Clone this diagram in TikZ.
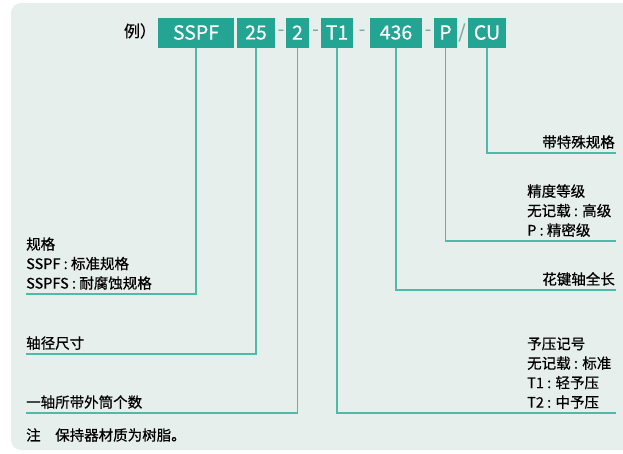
\documentclass[tikz,border=0pt]{standalone}
\usepackage{fontspec}
\setmainfont{Noto Sans CJK SC}[FakeBold=0.6]
\newfontfamily\codefont{Noto Sans CJK SC}[FakeBold=0.3]
\definecolor{boxteal}{RGB}{36,165,147}
\definecolor{leadteal}{RGB}{80,186,170}
\definecolor{septeal}{RGB}{120,170,160}
\definecolor{bgpale}{RGB}{230,239,236}
\begin{document}
\begin{tikzpicture}[x=1pt,y=-1pt]
    \tikzstyle{code}=[fill=boxteal,text=white,minimum height=30pt,inner sep=0pt,font=\codefont\fontsize{19.5}{19.5}\selectfont]
    \tikzstyle{sep}=[text=septeal,inner sep=0pt,font=\codefont\fontsize{18}{18}\selectfont]
    \tikzstyle{lead}=[draw=leadteal,line width=1.6pt]
    \tikzstyle{note}=[align=left,inner sep=0pt,font=\fontsize{14.5}{19.5}\selectfont]
    \useasboundingbox (0,0) rectangle (623,453);
    \clip (0,0) rectangle (623,453);
    \fill[bgpale,rounded corners=10pt] (11,3) rectangle (660,450);

      % header row
      \node (ex) at (140,31) [note,font=\fontsize{16}{16}\selectfont] {例）};
      \node (sspf) at (196,32.5) [code,minimum width=76pt] {SSPF};
      \node (dia) at (256,32.5) [code,minimum width=38pt] {25};
      \node (d1) at (281,32.5) [sep] {-};
      \node (num) at (297.5,32.5) [code,minimum width=23pt] {2};
      \node (d2) at (315.5,32.5) [sep] {-};
      \node (pre) at (337,32.5) [code,minimum width=32pt] {T1};
      \node (d3) at (362,32.5) [sep] {-};
      \node (len) at (396,32.5) [code,minimum width=52pt] {436};
      \node (d4) at (428,32.5) [sep] {-};
      \node (acc) at (445.5,32.5) [code,minimum width=23pt] {P};
      \node (sl) at (462,32.5) [sep] {/};
      \node (spc) at (487,32.5) [code,minimum width=38pt] {CU};

      % line ends
      \coordinate (e1) at (26,294);
      \coordinate (e2) at (26,354);
      \coordinate (e3) at (26,413);
      \coordinate (e4) at (616,413);
      \coordinate (e5) at (616,290);
      \coordinate (e6) at (616,241);
      \coordinate (e7) at (616,153);

      \draw[lead] (sspf.south) |- (e1);
      \draw[lead] (dia.south) |- (e2);
      \draw[lead] (num.south) |- (e3);
      \draw[lead] (pre.south) |- (e4);
      \draw[lead] (len.south) |- (e5);
      \draw[lead] (acc.south) |- (e6);
      \draw[lead] (spc.south) |- (e7);

      % labels
      \node (t1) at (26,290) [note,anchor=south west] {规格\\SSPF : 标准规格\\SSPFS : 耐腐蚀规格};
      \node (t2) at (26,350) [note,anchor=south west] {轴径尺寸};
      \node (t3) at (26,409) [note,anchor=south west] {一轴所带外筒个数};
      \node (t4) at (527,409) [note,anchor=south west] {予压记号\\无记载 : 标准\\T1 : 轻予压\\T2 : 中予压};
      \node (t5) at (615,286) [note,anchor=south east] {花键轴全长};
      \node (t6) at (527,237) [note,anchor=south west] {精度等级\\无记载 : 高级\\P : 精密级};
      \node (t7) at (615,149) [note,anchor=south east] {带特殊规格};
      \node (nb) at (26,435) [note,anchor=west] {注\quad 保持器材质为树脂。};
  \end{tikzpicture}
\end{document}
